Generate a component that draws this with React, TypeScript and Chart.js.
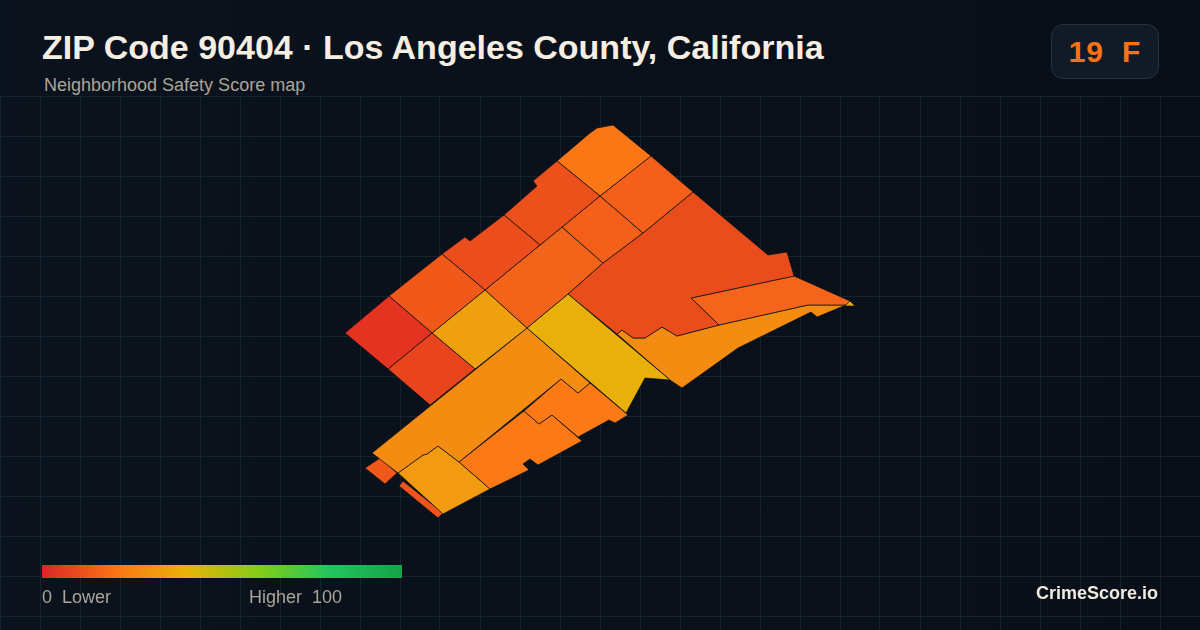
import React, { useEffect, useRef } from "react";
import { Chart, registerables } from "chart.js";

Chart.register(...registerables);

const titleText = "ZIP Code 90404 · Los Angeles County, California";
const subtitleText = "Neighborhood Safety Score map";
const badgeText = "19\u00a0\u00a0F";
const legendLow = "0\u00a0\u00a0Lower";
const legendHigh = "Higher\u00a0\u00a0100";
const brandText = "CrimeScore.io";

const gridX = [0, 40, 80, 120, 160, 200, 240, 280, 320, 360, 400, 440, 480, 520, 560, 600, 640, 680, 720, 760, 800, 840, 880, 920, 960, 1000, 1040, 1080, 1120, 1160, 1200];
const gridY = [96, 136, 176, 216, 256, 296, 336, 376, 416, 456, 496, 536, 576, 616];

type P = number[];
const tractA: P[] = [[345, 333], [389, 296], [432, 333], [388, 369]];
const tractB: P[] = [[388, 369], [432, 333], [475, 369], [430, 405]];
const tractC: P[] = [[389, 296], [442, 254], [485, 290], [432, 333]];
const tractD: P[] = [[442, 254], [465, 237], [470, 241], [504, 215], [540, 245], [485, 290]];
const tractE: P[] = [[504, 215], [537, 186], [533, 181], [557, 161], [600, 196], [540, 245]];
const tractF: P[] = [[557, 161], [590, 133], [597, 128], [613, 125], [651, 156], [600, 196]];
const tractG: P[] = [[600, 196], [651, 156], [693, 192], [643, 233]];
const tractI: P[] = [[600, 196], [643, 233], [603, 263], [562, 227]];
const tractH: P[] = [[485, 290], [562, 227], [603, 263], [568, 294], [527, 328]];
const tractJ: P[] = [[432, 333], [485, 290], [527, 328], [475, 369]];
const tractK: P[] = [[527, 328], [568, 294], [670, 380], [645, 378], [626, 413]];
const tractL: P[] = [[527, 328], [590, 383], [578, 393], [561, 379], [459, 462], [438, 446], [427, 454], [423, 455], [398, 473], [372, 453]];
const tractM1: P[] = [[524, 411], [561, 379], [578, 393], [590, 383], [628, 415], [615, 423], [609, 420], [578, 437], [552, 415], [539, 424]];
const tractM2: P[] = [[459, 462], [524, 411], [539, 424], [552, 415], [582, 441], [538, 465], [530, 459], [523, 464], [529, 470], [490, 489]];
const tractN: P[] = [[398, 473], [423, 455], [427, 454], [438, 446], [459, 462], [490, 489], [443, 514]];
const tractO: P[] = [[365, 468], [380, 458], [397, 473], [385, 484]];
const tractP: P[] = [[399, 486], [403, 481], [443, 513], [438, 518]];
const tractQ: P[] = [[568, 294], [603, 263], [643, 233], [693, 192], [768, 255], [787, 252], [794, 276], [691, 298], [719, 325], [677, 336], [662, 327], [645, 338], [633, 338], [622, 330], [617, 334]];
const tractR: P[] = [[691, 298], [794, 276], [850, 301], [846, 305], [808, 305], [719, 325]];
const tractS: P[] = [[617, 334], [622, 330], [633, 338], [645, 338], [662, 327], [677, 336], [719, 325], [808, 305], [846, 305], [817, 317], [811, 312], [738, 348], [682, 388], [670, 380]];
const tractT: P[] = [[849, 300], [855, 306], [845, 306]];

const tracts: P[][] = [tractA, tractB, tractC, tractD, tractE, tractF, tractG, tractI, tractH, tractJ, tractK, tractL, tractM1, tractM2, tractN, tractO, tractP, tractQ, tractR, tractS, tractT];
const tractColors = ["#e53322", "#e8441e", "#f0591a", "#eb4d1c", "#ed511b", "#fb7615", "#f45f19", "#f45f19", "#f2641a", "#efa00e", "#e9b00b", "#f48c12", "#fb7a15", "#fb7a15", "#f29a10", "#f0591a", "#ee541b", "#ea4d1c", "#f4641a", "#f48c12", "#e9b00b"];

const gradientStops = "#dc2626 0%, #f97316 20%, #eab308 40%, #84cc16 60%, #22c55e 80%, #16a34a 100%";
const sansFont = '"Liberation Sans", Arial, sans-serif';

export default function App() {
  const ref = useRef<HTMLCanvasElement>(null);

  useEffect(() => {
    document.body.style.margin = "0";
    const chart = new Chart(ref.current!, {
      type: "scatter",
      data: {
        datasets: tracts.map((poly, i) => ({
          data: [...poly, poly[0]].map(([x, y]) => ({ x, y })),
          showLine: true,
          fill: "shape",
          tension: 0,
          pointRadius: 0,
          backgroundColor: tractColors[i],
          borderColor: "#0b1018",
          borderWidth: 0.7,
          clip: false,
        })) as any,
      },
      options: {
        animation: false,
        responsive: false,
        devicePixelRatio: 1,
        layout: { padding: 0 },
        plugins: { legend: { display: false }, tooltip: { enabled: false }, title: { display: false } },
        scales: {
          x: {
            type: "linear",
            min: 0,
            max: 1200,
            afterBuildTicks: (s: any) => { s.ticks = gridX.map((value) => ({ value })); },
            grid: { color: "#15232d", lineWidth: 1, drawTicks: false },
            border: { display: false },
            ticks: { display: false },
          },
          y: {
            type: "linear",
            reverse: true,
            min: 96,
            max: 630,
            afterBuildTicks: (s: any) => { s.ticks = gridY.map((value) => ({ value })); },
            grid: { color: "#15232d", lineWidth: 1, drawTicks: false },
            border: { display: false },
            ticks: { display: false },
          },
        },
      },
    } as any);
    return () => chart.destroy();
  }, []);

  const abs = (s: React.CSSProperties): React.CSSProperties => ({ position: "absolute", whiteSpace: "nowrap", fontFamily: sansFont, ...s });

  return (
    <div style={{ position: "relative", width: 1200, height: 630, overflow: "hidden", background: "linear-gradient(90deg, #0a121d, #080f19)" }}>
      <canvas ref={ref} width={1200} height={534} style={{ position: "absolute", left: 0, top: 96, width: 1200, height: 534 }} />
      <div style={abs({ left: 42, top: 27, fontSize: 34, lineHeight: "40px", fontWeight: 700, color: "#f6eee1" })}>{titleText}</div>
      <div style={abs({ left: 44, top: 75, fontSize: 18, lineHeight: "20px", color: "#aca598" })}>{subtitleText}</div>
      <div style={abs({ left: 1051, top: 24, width: 106, height: 53, borderRadius: 12, background: "#111b28", border: "1px solid #27323f", textAlign: "center", fontSize: 30, lineHeight: "53px", fontWeight: 700, letterSpacing: 0.8, color: "#f97316" })}>{badgeText}</div>
      <div style={abs({ left: 42, top: 565, width: 360, height: 13, background: `linear-gradient(90deg, ${gradientStops})` })} />
      <div style={abs({ left: 42, top: 587, fontSize: 18, lineHeight: "20px", color: "#aca598" })}>{legendLow}</div>
      <div style={abs({ left: 249, top: 587, fontSize: 18, lineHeight: "20px", color: "#aca598" })}>{legendHigh}</div>
      <div style={abs({ right: 42, top: 583, fontSize: 18, lineHeight: "20px", fontWeight: 700, color: "#f1ebdf" })}>{brandText}</div>
    </div>
  );
}
